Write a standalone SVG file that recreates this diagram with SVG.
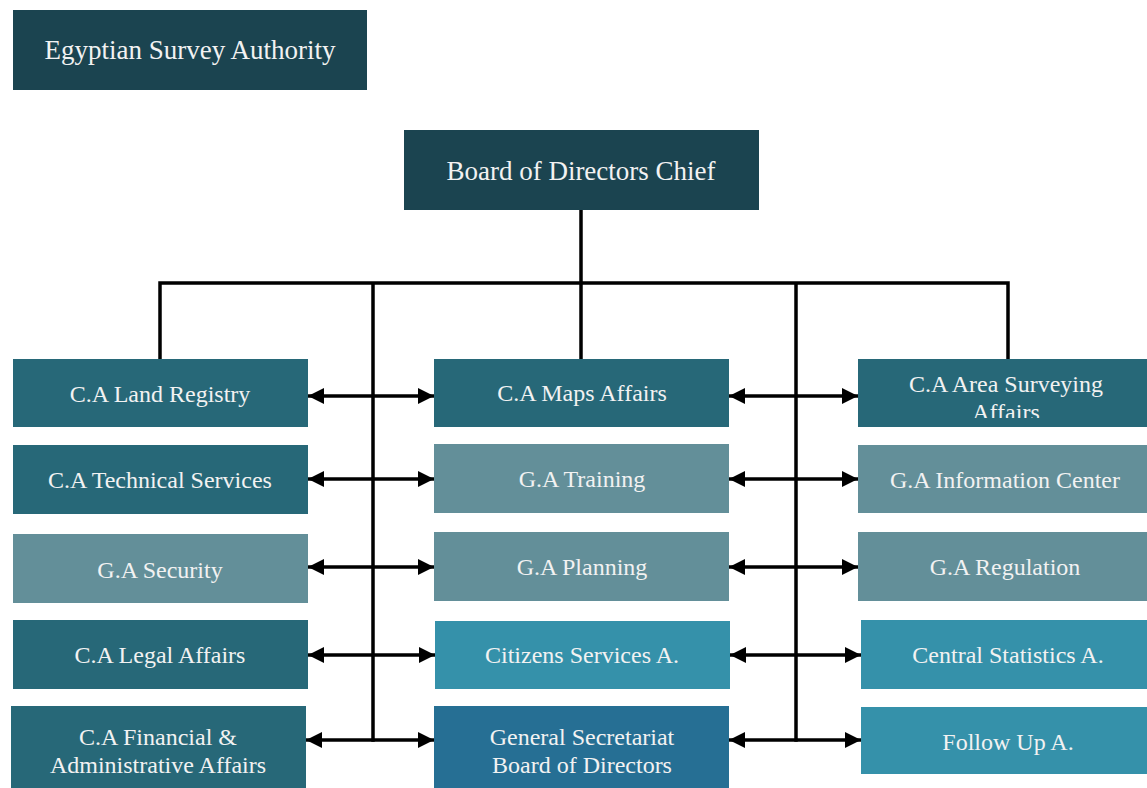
<svg xmlns="http://www.w3.org/2000/svg" width="1147" height="788" viewBox="0 0 1147 788">
<style>
.t{font-family:"Liberation Serif","Times New Roman",serif;font-size:24px;fill:#f2f2f2;text-anchor:middle}
.big{font-size:27px}
.dk{fill:#1b4450}
.ca{fill:#276878}
.ga{fill:#638f99}
.lt{fill:#3591aa}
.gs{fill:#266f94}
.ln{stroke:#000;stroke-width:3.5;fill:none}
</style>
<defs>
<marker id="ah" markerUnits="userSpaceOnUse" markerWidth="16" markerHeight="16" refX="16" refY="8" orient="auto-start-reverse">
<path d="M0,0 L16,8 L0,16 z" fill="#000"/>
</marker>
<clipPath id="clipArea"><rect x="858" y="359" width="289" height="59"/></clipPath>
</defs>
<rect width="1147" height="788" fill="#fff"/>

<g id="connectors">
<path class="ln" d="M581,209 V283 M160,283 H1008 M160,281.25 V359 M581,283 V359 M1008,281.25 V359 M373,283 V741.75 M796,283 V741.75"/>
<g marker-start="url(#ah)" marker-end="url(#ah)">
<line class="ln" x1="308" y1="396" x2="434" y2="396"/>
<line class="ln" x1="729" y1="396" x2="858" y2="396"/>
<line class="ln" x1="308" y1="479" x2="434" y2="479"/>
<line class="ln" x1="729" y1="479" x2="858" y2="479"/>
<line class="ln" x1="308" y1="567" x2="434" y2="567"/>
<line class="ln" x1="729" y1="567" x2="858" y2="567"/>
<line class="ln" x1="308" y1="655" x2="435" y2="655"/>
<line class="ln" x1="730" y1="655" x2="861" y2="655"/>
<line class="ln" x1="306" y1="740" x2="434" y2="740"/>
<line class="ln" x1="729" y1="740" x2="861" y2="740"/>
</g>
</g>

<g id="title"><rect class="dk" x="13" y="10" width="354" height="80"/><text class="t big" x="190" y="59">Egyptian Survey Authority</text></g>
<g id="board"><rect class="dk" x="404" y="130" width="355" height="80"/><text class="t big" x="581" y="180">Board of Directors Chief</text></g>

<g id="land"><rect class="ca" x="13" y="359" width="295" height="68"/><text class="t" x="160" y="402">C.A Land Registry</text></g>
<g id="technical"><rect class="ca" x="13" y="445" width="295" height="69"/><text class="t" x="160" y="488">C.A Technical Services</text></g>
<g id="security"><rect class="ga" x="13" y="534" width="295" height="69"/><text class="t" x="160" y="578">G.A Security</text></g>
<g id="legal"><rect class="ca" x="13" y="620" width="295" height="69"/><text class="t" x="160" y="663">C.A Legal Affairs</text></g>
<g id="financial"><rect class="ca" x="11" y="706" width="295" height="82"/><text class="t" x="158" y="745">C.A Financial &amp;</text><text class="t" x="158" y="773">Administrative Affairs</text></g>

<g id="maps"><rect class="ca" x="434" y="359" width="295" height="68"/><text class="t" x="582" y="401">C.A Maps Affairs</text></g>
<g id="training"><rect class="ga" x="434" y="444" width="295" height="69"/><text class="t" x="582" y="487">G.A Training</text></g>
<g id="planning"><rect class="ga" x="434" y="532" width="295" height="69"/><text class="t" x="582" y="575">G.A Planning</text></g>
<g id="citizens"><rect class="lt" x="435" y="621" width="295" height="68"/><text class="t" x="582" y="663">Citizens Services A.</text></g>
<g id="secretariat"><rect class="gs" x="434" y="706" width="295" height="82"/><text class="t" x="582" y="745">General Secretariat</text><text class="t" x="582" y="773">Board of Directors</text></g>

<g id="area"><rect class="ca" x="858" y="359" width="289" height="68"/><g clip-path="url(#clipArea)"><text class="t" x="1006" y="392">C.A Area Surveying</text><text class="t" x="1006" y="420">Affairs</text></g></g>
<g id="info"><rect class="ga" x="858" y="445" width="289" height="68"/><text class="t" x="1005" y="488">G.A Information Center</text></g>
<g id="regulation"><rect class="ga" x="858" y="532" width="289" height="69"/><text class="t" x="1005" y="575">G.A Regulation</text></g>
<g id="central"><rect class="lt" x="861" y="620" width="286" height="69"/><text class="t" x="1008" y="663">Central Statistics A.</text></g>
<g id="followup"><rect class="lt" x="861" y="707" width="286" height="67"/><text class="t" x="1008" y="750">Follow Up A.</text></g>
</svg>
